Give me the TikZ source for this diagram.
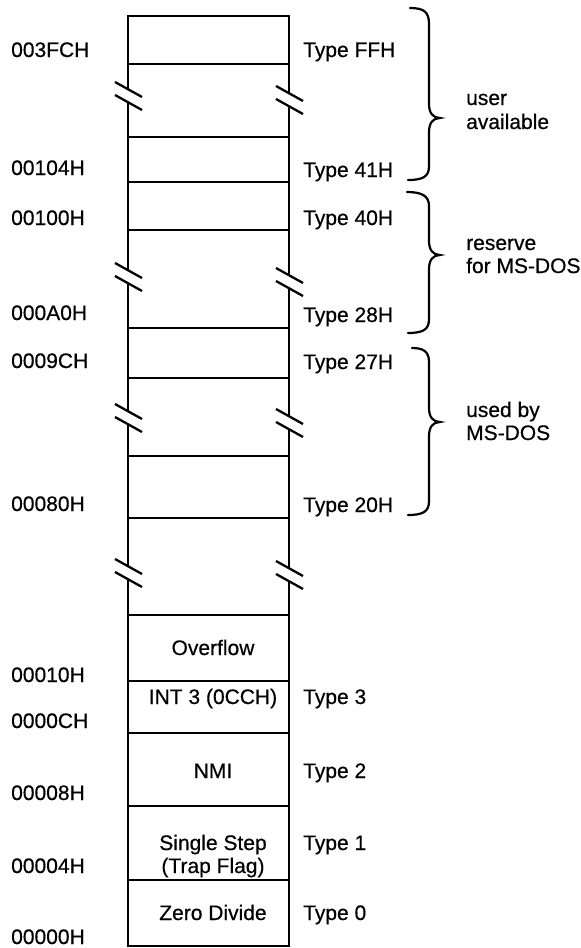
\documentclass[tikz,border=0pt]{standalone}
\usepackage{fontspec}
\setmainfont{Liberation Sans}
\newfontfamily\labfont[FakeBold=0.5]{Liberation Sans}
\begin{document}
\begin{tikzpicture}[x=1pt,y=-1pt,
  txt/.style={font=\labfont\fontsize{21}{25}\selectfont, inner sep=0pt},
  lbl/.style={txt, anchor=base west},
  cell/.style={txt, anchor=base},
  boxline/.style={line width=2.5pt},
  slash/.style={line width=2.3pt},
  brace/.style={line width=2.2pt, line cap=round}]
\useasboundingbox (0,0) rectangle (581,948);

% horizontal cell boundaries
\foreach \y in {16,64,137,182,230,328,378,456,518,615,681,733,806,880,946}
  \draw[boxline] (127,\y) -- (290,\y);

% vertical sides, interrupted at the breaks
\draw[boxline] (128,15) -- (128,89.5) (128,102.5) -- (128,270.5) (128,283.5) -- (128,411.5)
  (128,424.5) -- (128,566.5) (128,579.5) -- (128,947);
\draw[boxline] (289,15) -- (289,93.5) (289,106.5) -- (289,275.5) (289,288.5) -- (289,416.5)
  (289,429.5) -- (289,568.5) (289,581.5) -- (289,947);

% break marks
\foreach \x/\y in {128/96,128/277,128/418,128/573,289/100,289/282,289/423,289/575}{
  \draw[slash] ({\x-13},{\y-14}) -- ({\x+14},{\y+1});
  \draw[slash] ({\x-13},{\y-1}) -- ({\x+14},{\y+14});
}

% braces
\draw[brace] (410,8) .. controls (424,8) and (429,12) .. (429,24) -- (429,104)
  .. controls (429,113) and (433,118) .. (440,118)
  .. controls (433,118) and (429,123) .. (429,132) -- (429,166)
  .. controls (429,176) and (424,180) .. (408,180);
\draw[brace] (407,192) .. controls (422,192) and (429,196) .. (429,206) -- (429,241)
  .. controls (429,250) and (433,255) .. (440,255)
  .. controls (433,255) and (429,260) .. (429,269) -- (429,319)
  .. controls (429,329) and (424,333) .. (408,333);
\draw[brace] (412,348) .. controls (424,348) and (429,352) .. (429,362) -- (429,408)
  .. controls (429,417) and (433,422) .. (440,422)
  .. controls (433,422) and (429,427) .. (429,436) -- (429,501)
  .. controls (429,511) and (424,515) .. (408,515);

% brace texts
\node[lbl] (ua1) at (466,105) {user};
\node[lbl] (ua2) at (466,129) {available};
\node[lbl] (rm1) at (466,250) {reserve};
\node[lbl] (rm2) at (466,273) {for MS-DOS};
\node[lbl] (ub1) at (466,417) {used by};
\node[lbl] (ub2) at (466,440) {MS-DOS};

% addresses
\node[lbl] (a1) at (11,57) {003FCH};
\node[lbl] (a2) at (11,175) {00104H};
\node[lbl] (a3) at (11,225) {00100H};
\node[lbl] (a4) at (11,320) {000A0H};
\node[lbl] (a5) at (11,368) {0009CH};
\node[lbl] (a6) at (11,511) {00080H};
\node[lbl] (a7) at (11,682) {00010H};
\node[lbl] (a8) at (11,728) {0000CH};
\node[lbl] (a9) at (11,800) {00008H};
\node[lbl] (a10) at (11,873) {00004H};
\node[lbl] (a11) at (11,944) {00000H};

% types
\node[lbl] (t1) at (303,57) {Type FFH};
\node[lbl] (t2) at (303,177) {Type 41H};
\node[lbl] (t3) at (303,225) {Type 40H};
\node[lbl] (t4) at (303,322) {Type 28H};
\node[lbl] (t5) at (303,369) {Type 27H};
\node[lbl] (t6) at (303,512) {Type 20H};
\node[lbl] (t7) at (303,704) {Type 3};
\node[lbl] (t8) at (303,778) {Type 2};
\node[lbl] (t9) at (303,850) {Type 1};
\node[lbl] (t10) at (303,920) {Type 0};

% cell contents
\node[cell] (c1) at (213,655) {Overflow};
\node[cell] (c2) at (213,704) {INT 3 (0CCH)};
\node[cell] (c3) at (213,778) {NMI};
\node[cell] (c4) at (213,850) {Single Step};
\node[cell] (c5) at (213,873) {(Trap Flag)};
\node[cell] (c6) at (213,920) {Zero Divide};
\end{tikzpicture}
\end{document}
